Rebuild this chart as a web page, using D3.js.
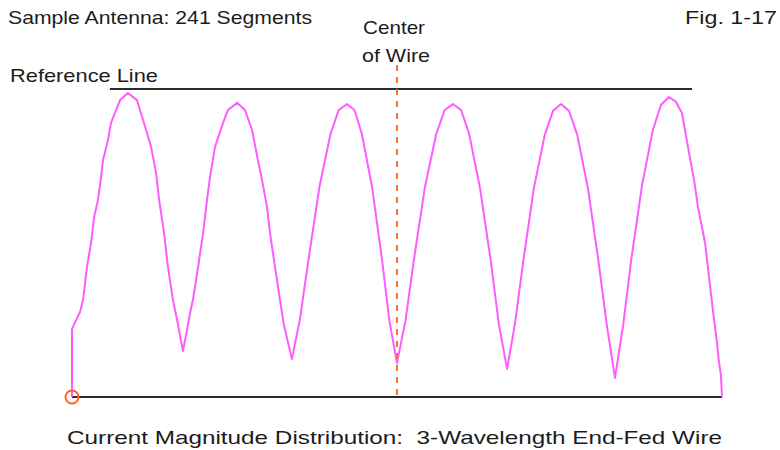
<!DOCTYPE html>
<html>
<head>
<meta charset="utf-8">
<script src="https://cdn.jsdelivr.net/npm/d3@7/dist/d3.min.js"></script>
<style>
  html, body { margin: 0; padding: 0; background: #ffffff; }
  svg { display: block; }
  text { font-family: "Liberation Sans", Arial, sans-serif; fill: #1c1c1c; white-space: pre; }
</style>
</head>
<body>
<svg id="chart" width="780" height="450"></svg>
<script>
// Position along wire (wavelengths from feed end) and relative current magnitude
const positions = [
  0, 0, 0.023, 0.037, 0.051, 0.069, 0.088, 0.102, 0.120, 0.134, 0.143, 0.166, 0.180, 0.198, 0.222, 0.258,
  0.300, 0.318, 0.342, 0.365, 0.388, 0.402, 0.425, 0.443, 0.466, 0.485, 0.512,
  0.531, 0.545, 0.558, 0.582, 0.605, 0.623, 0.637, 0.660, 0.697, 0.720, 0.762,
  0.798, 0.831, 0.858, 0.877, 0.900, 0.914, 0.937, 0.960, 0.978, 1.015,
  1.052, 1.092, 1.142, 1.193, 1.231, 1.269, 1.304, 1.338, 1.385, 1.431, 1.465, 1.500,
  1.539, 1.578, 1.629, 1.681, 1.720, 1.758, 1.796, 1.833, 1.883, 1.933, 1.970, 2.008,
  2.045, 2.083, 2.132, 2.182, 2.220, 2.257, 2.294, 2.332, 2.382, 2.431, 2.469, 2.506,
  2.544, 2.581, 2.631, 2.681, 2.718, 2.755, 2.788, 2.815, 2.843, 2.871, 2.889, 2.922, 2.940, 2.958, 2.977, 2.986, 2.995, 3.000
];
const currents = [
  0, 0.221, 0.256, 0.276, 0.315, 0.422, 0.500, 0.584, 0.640, 0.714, 0.769, 0.834, 0.890, 0.922, 0.964, 0.987,
  0.964, 0.922, 0.867, 0.812, 0.727, 0.640, 0.532, 0.422, 0.315, 0.250, 0.149,
  0.218, 0.273, 0.315, 0.422, 0.532, 0.640, 0.714, 0.812, 0.890, 0.932, 0.955,
  0.932, 0.867, 0.769, 0.705, 0.617, 0.532, 0.422, 0.315, 0.234, 0.123,
  0.253, 0.448, 0.682, 0.854, 0.932, 0.951, 0.932, 0.854, 0.682, 0.445, 0.247, 0.110,
  0.247, 0.445, 0.682, 0.854, 0.932, 0.951, 0.932, 0.854, 0.679, 0.442, 0.237, 0.091,
  0.240, 0.442, 0.679, 0.851, 0.929, 0.951, 0.929, 0.851, 0.675, 0.435, 0.231, 0.062,
  0.234, 0.445, 0.688, 0.867, 0.948, 0.974, 0.958, 0.922, 0.812, 0.705, 0.617, 0.500, 0.390, 0.282, 0.175, 0.114, 0.071, 0
];
const wireLength = [0, 3];          // wavelengths
const referenceLevel = 1.0;
const referenceSpan = [0.175, 2.862];
const centerPosition = 1.5;
const centerLineTop = 1.078;
const feedPoint = { pos: 0, cur: 0 };

const titleText = "Sample Antenna: 241 Segments";
const figText = "Fig. 1-17";
const centerLabel = ["Center", "of Wire"];
const refLabel = "Reference Line";
const captionText = "Current Magnitude Distribution:  3-Wavelength End-Fed Wire";

const svg = d3.select("#chart");
const x = d3.scaleLinear().domain(wireLength).range([72, 722]);
const y = d3.scaleLinear().domain([0, referenceLevel]).range([397, 89]);

const data = positions.map((p, i) => ({ p, c: currents[i] }));

// baseline (the wire)
svg.append("line")
  .attr("x1", x(wireLength[0])).attr("x2", x(wireLength[1]))
  .attr("y1", y(0)).attr("y2", y(0))
  .attr("stroke", "#2a2a2a").attr("stroke-width", 2.2);

// reference line
svg.append("line")
  .attr("x1", x(referenceSpan[0])).attr("x2", x(referenceSpan[1]))
  .attr("y1", y(referenceLevel)).attr("y2", y(referenceLevel))
  .attr("stroke", "#2a2a2a").attr("stroke-width", 2);

// current distribution
svg.append("path")
  .datum(data)
  .attr("d", d3.line().x(d => x(d.p)).y(d => y(d.c)))
  .attr("fill", "none")
  .attr("stroke", "#ff5cff")
  .attr("stroke-width", 2)
  .attr("stroke-linejoin", "round");

// center of wire dashed line
svg.append("line")
  .attr("x1", x(centerPosition)).attr("x2", x(centerPosition))
  .attr("y1", y(centerLineTop)).attr("y2", y(0))
  .attr("stroke", "#ff6f30").attr("stroke-width", 2)
  .attr("stroke-dasharray", "6,6");

// feed point marker
svg.append("circle")
  .attr("cx", x(feedPoint.pos)).attr("cy", y(feedPoint.cur))
  .attr("r", 6.5)
  .attr("fill", "none")
  .attr("stroke", "#ff6420").attr("stroke-width", 2);

// texts
function label(t, xx, yy, w, anchor) {
  const el = svg.append("text").attr("x", xx).attr("y", yy)
    .attr("font-size", 19).text(t);
  if (anchor) el.attr("text-anchor", anchor);
  if (w) el.attr("textLength", w).attr("lengthAdjust", "spacingAndGlyphs");
  return el;
}
label(titleText, 8, 24, 304);
label(figText, 685, 24, 92);
label(centerLabel[0], 363, 34, 62);
label(centerLabel[1], 362, 62, 68);
label(refLabel, 10, 82, 148);
label(captionText, 67, 444, 655);
</script>
</body>
</html>
